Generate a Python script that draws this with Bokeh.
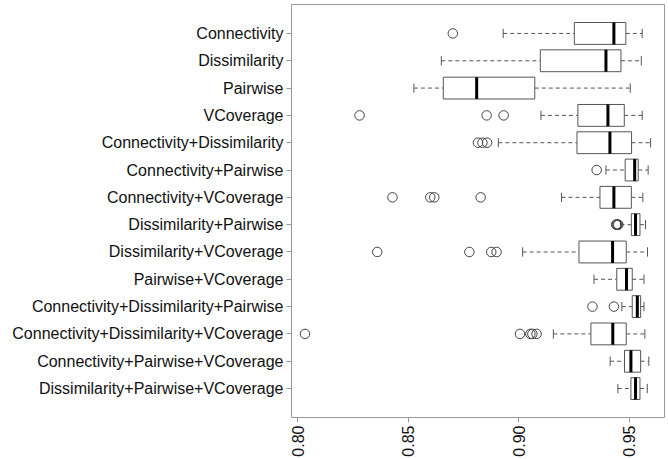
from math import pi
from bokeh.plotting import figure
from bokeh.models import FactorRange, ColumnDataSource, FixedTicker
from bokeh.transform import dodge
from bokeh.embed import file_html
from bokeh.resources import INLINE

categories = [
    "Connectivity", "Dissimilarity", "Pairwise", "VCoverage",
    "Connectivity+Dissimilarity", "Connectivity+Pairwise", "Connectivity+VCoverage",
    "Dissimilarity+Pairwise", "Dissimilarity+VCoverage", "Pairwise+VCoverage",
    "Connectivity+Dissimilarity+Pairwise", "Connectivity+Dissimilarity+VCoverage",
    "Connectivity+Pairwise+VCoverage", "Dissimilarity+Pairwise+VCoverage",
]
whisker_low = [0.8929, 0.8649, 0.8525, 0.9100, 0.8907, 0.9394, 0.9193,
               0.9460, 0.9017, 0.9340, 0.9466, 0.9156, 0.9413, 0.9448]
q1 = [0.9251, 0.9097, 0.8658, 0.9267, 0.9263, 0.9481, 0.9367,
      0.9509, 0.9272, 0.9443, 0.9513, 0.9326, 0.9478, 0.9507]
median = [0.9430, 0.9394, 0.8809, 0.9403, 0.9412, 0.9524, 0.9430,
          0.9528, 0.9424, 0.9487, 0.9536, 0.9425, 0.9507, 0.9528]
q3 = [0.9484, 0.9462, 0.9072, 0.9477, 0.9510, 0.9540, 0.9509,
      0.9548, 0.9486, 0.9513, 0.9551, 0.9486, 0.9551, 0.9548]
whisker_high = [0.9558, 0.9554, 0.9504, 0.9558, 0.9596, 0.9585, 0.9561,
                0.9573, 0.9582, 0.9566, 0.9566, 0.9570, 0.9588, 0.9581]
outliers = {
    "Connectivity": [0.8701],
    "VCoverage": [0.8279, 0.8854, 0.8931],
    "Connectivity+Dissimilarity": [0.8815, 0.8835, 0.8856],
    "Connectivity+Pairwise": [0.9352],
    "Connectivity+VCoverage": [0.8428, 0.8599, 0.8617, 0.8827],
    "Dissimilarity+Pairwise": [0.9440, 0.9443, 0.9446, 0.9450],
    "Dissimilarity+VCoverage": [0.8359, 0.8776, 0.8875, 0.8899],
    "Connectivity+Dissimilarity+Pairwise": [0.9333, 0.9430],
    "Connectivity+Dissimilarity+VCoverage": [0.8032, 0.9005, 0.9052, 0.9061, 0.9080],
}
x_ticks = [0.80, 0.85, 0.90, 0.95]

src = ColumnDataSource(dict(cat=categories, wlo=whisker_low, q1=q1, med=median,
                            q3=q3, whi=whisker_high))
out_cat, out_val = [], []
for k, vals in outliers.items():
    for v in vals:
        out_cat.append(k)
        out_val.append(v)
osrc = ColumnDataSource(dict(cat=out_cat, val=out_val))

yr = FactorRange(factors=list(reversed(categories)), range_padding=0.56,
                 range_padding_units="absolute")
p = figure(width=668, height=459, y_range=yr, x_range=(0.7971, 0.9659),
           output_backend="svg", toolbar_location=None,
           min_border_left=291, min_border_right=4, min_border_top=4, min_border_bottom=0)
p.grid.visible = False
p.background_fill_color = "white"
p.border_fill_color = "white"
p.outline_line_color = "#999999"
p.outline_line_width = 1

# whiskers
p.segment(x0="wlo", x1="q1", y0="cat", y1="cat", source=src, line_color="#555555",
          line_dash="4 3", line_width=1)
p.segment(x0="q3", x1="whi", y0="cat", y1="cat", source=src, line_color="#555555",
          line_dash="4 3", line_width=1)
# caps
p.segment(x0="wlo", x1="wlo", y0=dodge("cat", -0.17, range=yr), y1=dodge("cat", 0.17, range=yr),
          source=src, line_color="#555555", line_width=1)
p.segment(x0="whi", x1="whi", y0=dodge("cat", -0.17, range=yr), y1=dodge("cat", 0.17, range=yr),
          source=src, line_color="#555555", line_width=1)
# boxes
p.hbar(y="cat", left="q1", right="q3", height=0.8, source=src, fill_color="white",
       line_color="#555555", line_width=1)
# medians
p.segment(x0="med", x1="med", y0=dodge("cat", -0.4, range=yr), y1=dodge("cat", 0.4, range=yr),
          source=src, line_color="black", line_width=3)
# outliers
p.scatter(x="val", y="cat", source=osrc, marker="circle", size=9.5, fill_color=None,
          line_color="#444444", line_width=1)

font = "Liberation Sans"
ya = p.yaxis[0]
ya.major_label_text_font = font
ya.major_label_text_font_size = "16px"
ya.major_label_text_color = "#111111"
ya.axis_line_color = None
ya.major_tick_line_color = "#999999"
ya.major_tick_out = 5
ya.major_tick_in = 0
ya.major_label_standoff = 3

xa = p.xaxis[0]
xa.ticker = FixedTicker(ticks=x_ticks)
xa.major_label_overrides = {t: f"{t:.2f}" for t in x_ticks}
xa.major_label_orientation = pi / 2
xa.major_label_text_font = font
xa.major_label_text_font_size = "16px"
xa.major_label_text_color = "#111111"
xa.axis_line_color = None
xa.major_tick_line_color = "#999999"
xa.major_tick_out = 5
xa.major_tick_in = 0
xa.minor_tick_line_color = None
xa.major_label_standoff = 3
xa.axis_label_standoff = 0

open("out.html", "w").write(file_html(p, INLINE))
